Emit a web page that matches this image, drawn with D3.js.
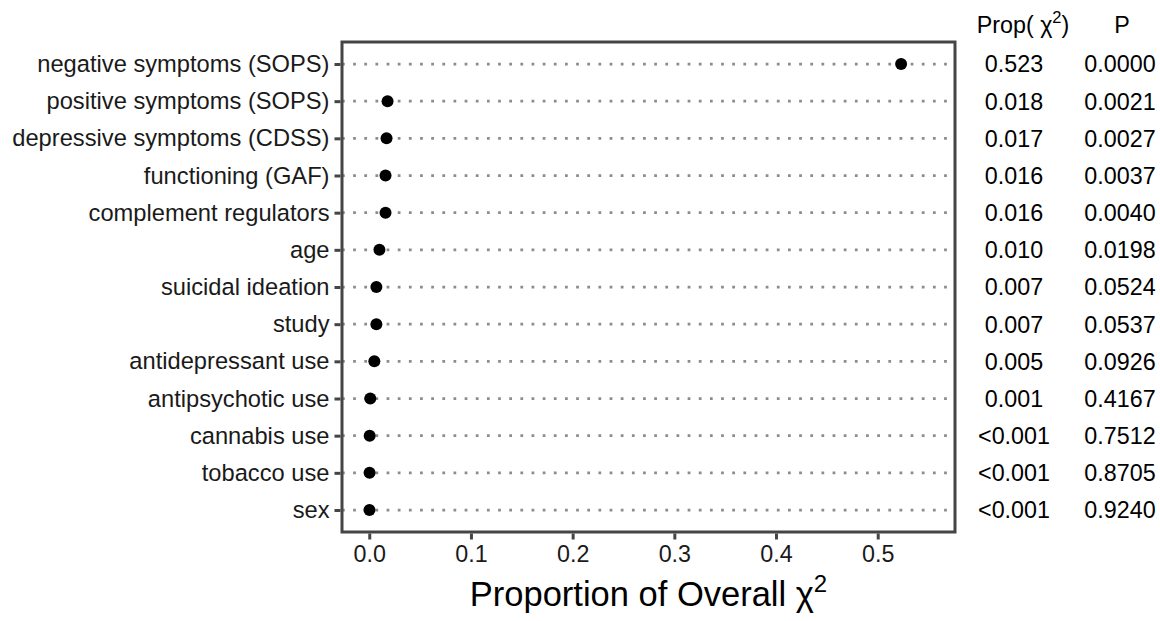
<!DOCTYPE html>
<html>
<head>
<meta charset="utf-8">
<script src="https://cdn.jsdelivr.net/npm/d3@7"></script>
<style>
  body { margin: 0; background: #fff; }
  svg { display: block; font-family: "Liberation Sans", Arial, Helvetica, sans-serif; }
</style>
</head>
<body>
<svg width="1160" height="621"></svg>
<script>
const variables = [
  'negative symptoms (SOPS)', 'positive symptoms (SOPS)', 'depressive symptoms (CDSS)',
  'functioning (GAF)', 'complement regulators', 'age', 'suicidal ideation', 'study',
  'antidepressant use', 'antipsychotic use', 'cannabis use', 'tobacco use', 'sex'
]
const proportions = [0.523, 0.018, 0.017, 0.016, 0.016, 0.010, 0.007, 0.007, 0.005, 0.001, 0.0004, 0.0003, 0.0002]
const propLabels = ['0.523', '0.018', '0.017', '0.016', '0.016', '0.010', '0.007', '0.007', '0.005', '0.001', '<0.001', '<0.001', '<0.001']
const pLabels = ['0.0000', '0.0021', '0.0027', '0.0037', '0.0040', '0.0198', '0.0524', '0.0537', '0.0926', '0.4167', '0.7512', '0.8705', '0.9240']
const xTicks = [0, 0.1, 0.2, 0.3, 0.4, 0.5]

const rows = variables.map((v, i) => ({ name: v, value: proportions[i], prop: propLabels[i], p: pLabels[i] }))

const panel = { left: 342, right: 955, top: 42, bottom: 532 }
const axisColor = '#454545'
const fontSize = 23.7

const svg = d3.select('svg')

const x = d3.scaleLinear().domain([-0.0268, 0.576]).range([panel.left, panel.right])
const y = d3.scalePoint().domain(variables).range([64, 510])

// dotted guide lines
svg.append('g')
  .selectAll('line')
  .data(rows)
  .join('line')
  .attr('x1', panel.left)
  .attr('x2', panel.right)
  .attr('y1', d => y(d.name))
  .attr('y2', d => y(d.name))
  .attr('stroke', '#8c8c8c')
  .attr('stroke-width', 2.75)
  .attr('stroke-dasharray', '2.75 8.4')

// points
svg.append('g')
  .selectAll('circle')
  .data(rows)
  .join('circle')
  .attr('cx', d => x(d.value))
  .attr('cy', d => y(d.name))
  .attr('r', 6)
  .attr('fill', '#000')

// panel border
svg.append('rect')
  .attr('x', panel.left)
  .attr('y', panel.top)
  .attr('width', panel.right - panel.left)
  .attr('height', panel.bottom - panel.top)
  .attr('fill', 'none')
  .attr('stroke', axisColor)
  .attr('stroke-width', 3)

// y axis
const yAxis = svg.append('g')
  .attr('transform', `translate(${panel.left - 1.5},0)`)
  .call(d3.axisLeft(y).tickSize(6).tickPadding(5))
yAxis.select('.domain').remove()
yAxis.selectAll('.tick line').attr('stroke', axisColor).attr('stroke-width', 3)
yAxis.selectAll('.tick text')
  .attr('font-size', fontSize)
  .attr('font-family', null)
  .attr('fill', '#1a1a1a')

// x axis
const xAxis = svg.append('g')
  .attr('transform', `translate(0,${panel.bottom + 1.5})`)
  .call(d3.axisBottom(x).tickValues(xTicks).tickFormat(d3.format('.1f')).tickSize(6).tickPadding(6))
xAxis.select('.domain').remove()
xAxis.selectAll('.tick line').attr('stroke', axisColor).attr('stroke-width', 3)
xAxis.selectAll('.tick text')
  .attr('font-size', 23.3)
  .attr('font-family', null)
  .attr('fill', '#1a1a1a')

// x title
const xTitle = svg.append('text')
  .attr('x', (panel.left + panel.right) / 2)
  .attr('y', 606)
  .attr('text-anchor', 'middle')
  .attr('font-size', 34.5)
  .attr('fill', '#000')
xTitle.append('tspan').text('Proportion of Overall χ')
xTitle.append('tspan').attr('font-size', 24).attr('dy', -14).text('2')

// right-hand columns
const propX = 1014
const pX = 1120
const header = svg.append('text')
  .attr('x', propX + 9)
  .attr('y', 33)
  .attr('text-anchor', 'middle')
  .attr('font-size', 23.3)
  .attr('fill', '#000')
header.append('tspan').text('Prop( χ')
header.append('tspan').attr('font-size', 16.5).attr('dy', -10).text('2')
header.append('tspan').attr('dy', 10).text(')')

svg.append('text')
  .attr('x', pX + 2)
  .attr('y', 33)
  .attr('text-anchor', 'middle')
  .attr('font-size', 23.3)
  .text('P')

svg.append('g')
  .selectAll('text')
  .data(rows)
  .join('text')
  .attr('x', propX)
  .attr('y', d => y(d.name))
  .attr('dy', '0.36em')
  .attr('text-anchor', 'middle')
  .attr('font-size', 23.3)
  .attr('fill', '#000')
  .text(d => d.prop)

svg.append('g')
  .selectAll('text')
  .data(rows)
  .join('text')
  .attr('x', pX)
  .attr('y', d => y(d.name))
  .attr('dy', '0.36em')
  .attr('text-anchor', 'middle')
  .attr('font-size', 23.3)
  .attr('fill', '#000')
  .text(d => d.p)
</script>
</body>
</html>
